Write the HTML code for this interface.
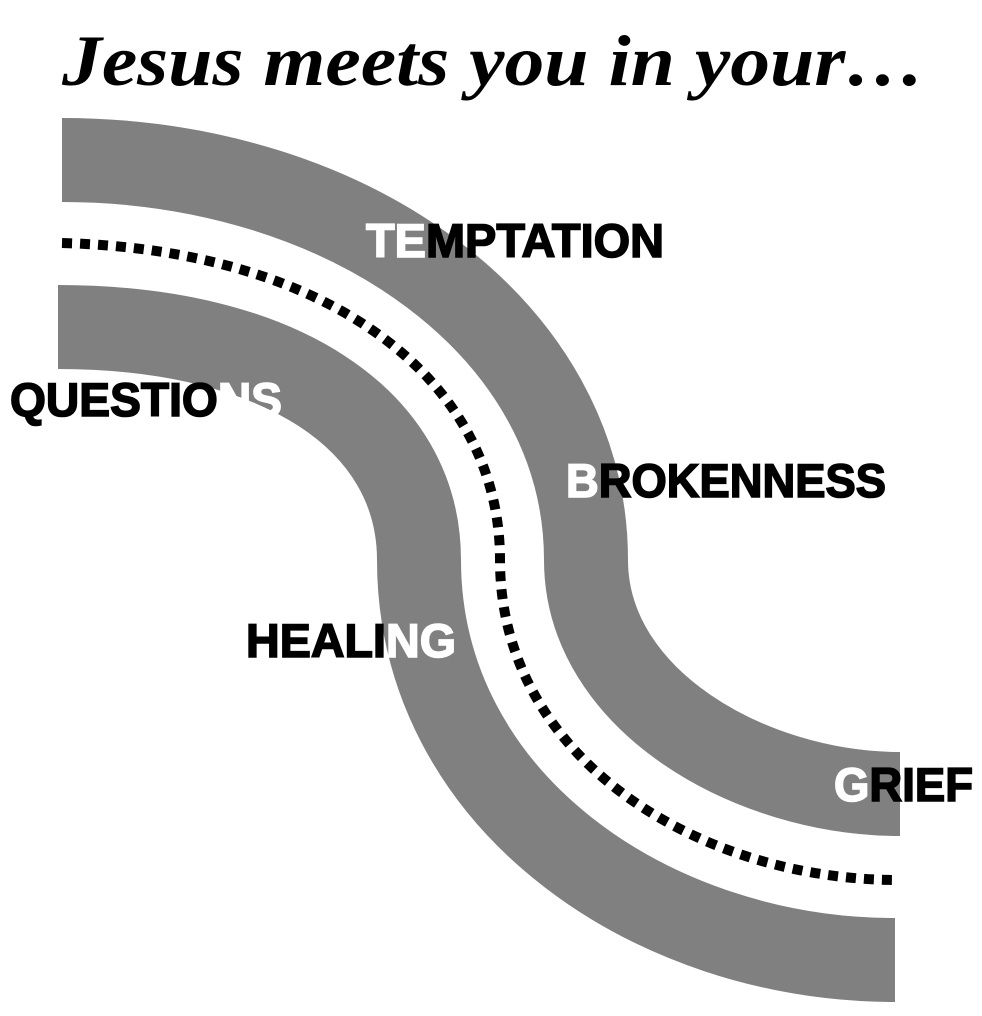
<!DOCTYPE html>
<html><head><meta charset="utf-8"><style>
html,body{margin:0;padding:0;background:#fff;}
svg{display:block;}
.t{font-family:"Liberation Sans",Arial,sans-serif;font-weight:bold;font-size:47px;stroke-width:1.6px;}
.w{fill:#fff;stroke:#fff;}
.b{fill:#000;stroke:#000;}
</style></head><body>
<svg width="982" height="1016" viewBox="0 0 982 1016" xmlns="http://www.w3.org/2000/svg">
<text x="62" y="85" font-family="'Liberation Serif',serif" font-style="italic" font-weight="bold" font-size="72" textLength="863" lengthAdjust="spacingAndGlyphs">Jesus meets you in your…</text>
<path d="M62,160 C 350,160 586,330 586,560 C 586,700 750,794 900,794" stroke="#808080" stroke-width="84" fill="none"/>
<path d="M58,327 C 280,327 419,420 419,560 C 419,800 650,960 895,960" stroke="#808080" stroke-width="84" fill="none"/>
<path d="M62,243 C 330,250 500,380 500,560 C 500,760 700,880 898,880" stroke="#000" stroke-width="10" stroke-dasharray="10 8" fill="none"/>
<g class="t">
<text x="366" y="257" textLength="298" lengthAdjust="spacingAndGlyphs"><tspan class="w">TE</tspan><tspan class="b">MPTATION</tspan></text>
<text x="10" y="416" textLength="272" lengthAdjust="spacingAndGlyphs"><tspan class="b">QUESTIO</tspan><tspan class="w">NS</tspan></text>
<text x="566" y="497" textLength="320" lengthAdjust="spacingAndGlyphs"><tspan class="w">B</tspan><tspan class="b">ROKENNESS</tspan></text>
<text x="246" y="657" textLength="210" lengthAdjust="spacingAndGlyphs"><tspan class="b">HEALI</tspan><tspan class="w">NG</tspan></text>
<text x="834" y="801" textLength="139" lengthAdjust="spacingAndGlyphs"><tspan class="w">G</tspan><tspan class="b">RIEF</tspan></text>
</g>
</svg>
</body></html>
